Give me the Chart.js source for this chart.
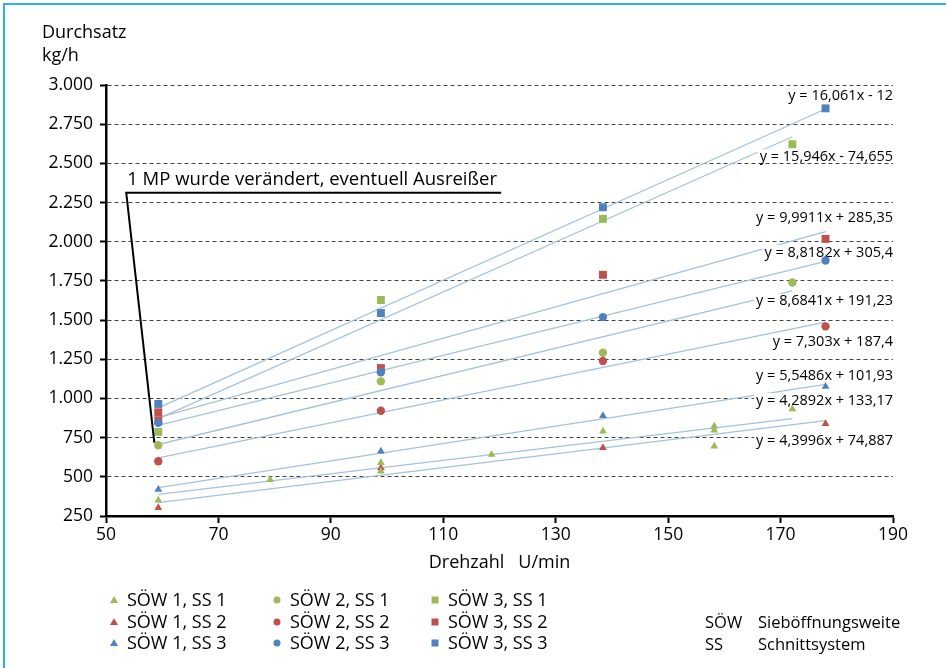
<!DOCTYPE html>
<html>
<head>
<meta charset="utf-8">
<script src="https://cdn.jsdelivr.net/npm/chart.js@4.4.1/dist/chart.umd.min.js"></script>
<style>
  body { margin: 0; background: #fff; }
  #frame { position: absolute; left: 3px; top: 3px; width: 950px; height: 680px;
           border-top: 2px solid #2ab3e6; border-left: 2px solid #2ab3e6; }
  #chart { position: absolute; left: 0; top: 0; }
</style>
</head>
<body>
<div id="frame"></div>
<canvas id="chart" width="946" height="668"></canvas>
<script>
// measured points (Drehzahl U/min -> Durchsatz kg/h)
const sow1ss1X = [59.3, 79.2, 98.9, 98.9, 118.6, 138.4, 158.2, 158.2, 158.2, 172.1];
const sow1ss1Y = [350, 482, 589, 536, 642, 790, 822, 797, 695, 933];
const sow1ss2X = [59.3, 98.9, 138.4, 178];
const sow1ss2Y = [302, 557, 685, 839];
const sow1ss3X = [59.3, 98.9, 138.4, 178];
const sow1ss3Y = [419, 663, 890, 1077];
const sow2ss1X = [59.3, 98.9, 138.4, 172.1];
const sow2ss1Y = [701, 1109, 1292, 1740];
const sow2ss2X = [59.3, 98.9, 138.4, 178];
const sow2ss2Y = [599, 922, 1239, 1460];
const sow2ss3X = [59.3, 98.9, 138.4, 178];
const sow2ss3Y = [844, 1167, 1519, 1880];
const sow3ss1X = [59.3, 98.9, 138.4, 172.1];
const sow3ss1Y = [787, 1628, 2146, 2622];
const sow3ss2X = [59.3, 59.3, 98.9, 138.4, 178];
const sow3ss2Y = [912, 861, 1194, 1789, 2018];
const sow3ss3X = [59.3, 98.9, 138.4, 178];
const sow3ss3Y = [965, 1545, 2220, 2851];

const seriesNames = ["SÖW 1, SS 1", "SÖW 1, SS 2", "SÖW 1, SS 3",
                     "SÖW 2, SS 1", "SÖW 2, SS 2", "SÖW 2, SS 3",
                     "SÖW 3, SS 1", "SÖW 3, SS 2", "SÖW 3, SS 3"];

// linear trendlines as printed in the chart
const trendSlopes = [4.2892, 4.3996, 5.5486, 8.6841, 7.303, 8.8182, 15.946, 9.9911, 16.061];
const trendIntercepts = [133.17, 74.887, 101.93, 191.23, 187.4, 305.4, -74.655, 285.35, -12];
const trendLabels = ["y = 4,2892x + 133,17", "y = 4,3996x + 74,887", "y = 5,5486x + 101,93",
                     "y = 8,6841x + 191,23", "y = 7,303x + 187,4", "y = 8,8182x + 305,4",
                     "y = 15,946x - 74,655", "y = 9,9911x + 285,35", "y = 16,061x - 12"];

const xTicksMin = 50, xTicksMax = 190, xStep = 20;
const yTicksMin = 250, yTicksMax = 3000, yStep = 250;

// where the equation labels sit (data units, right aligned)
const labelPosX = 190.0;
const labelPosY = [993, 733, 1152, 1626, 1365, 1938, 2548, 2159, 2936];

const FONT = "'Open Sans', sans-serif";
const GREEN = "#9bbb59", RED = "#c0504d", BLUE = "#4f81bd";
const TREND = "#a4c2dd";

const allX = [sow1ss1X, sow1ss2X, sow1ss3X, sow2ss1X, sow2ss2X, sow2ss3X, sow3ss1X, sow3ss2X, sow3ss3X];
const allY = [sow1ss1Y, sow1ss2Y, sow1ss3Y, sow2ss1Y, sow2ss2Y, sow2ss3Y, sow3ss1Y, sow3ss2Y, sow3ss3Y];
const colors = [GREEN, RED, BLUE, GREEN, RED, BLUE, GREEN, RED, BLUE];
const styles = ["triangle", "triangle", "triangle", "circle", "circle", "circle", "rect", "rect", "rect"];
const radii = { triangle: 4.5, circle: 4.2, rect: 5.6 };

const datasets = [];
seriesNames.forEach((name, i) => {
  datasets.push({
    label: name,
    data: allX[i].map((x, j) => ({ x: x, y: allY[i][j] })),
    pointStyle: styles[i],
    pointRadius: radii[styles[i]],
    pointBackgroundColor: colors[i],
    pointBorderWidth: 0,
    showLine: false,
    order: 0
  });
});
seriesNames.forEach((name, i) => {
  const x0 = Math.min(...allX[i]), x1 = Math.max(...allX[i]);
  datasets.push({
    label: "trend " + name,
    data: [x0, x1].map(x => ({ x: x, y: trendSlopes[i] * x + trendIntercepts[i] })),
    showLine: true,
    borderColor: TREND,
    borderWidth: 1.3,
    pointRadius: 0,
    order: 1,
    isTrend: true
  });
});

const fmtDE = v => v >= 1000 ? Math.floor(v / 1000) + "." + String(v % 1000).padStart(3, "0") : String(v);

let labelsDone = false;
const drawEquations = chart => {
  const { ctx, scales: { x, y } } = chart;
  ctx.save();
  ctx.font = "14.5px " + FONT;
  ctx.textAlign = "right";
  ctx.textBaseline = "middle";
  trendLabels.forEach((t, i) => {
    const px = x.getPixelForValue(labelPosX);
    const py = y.getPixelForValue(labelPosY[i]);
    const w = ctx.measureText(t).width;
    ctx.fillStyle = "#fff";
    ctx.fillRect(px - w - 2, py - 6.5, w + 4, 13);
    ctx.fillStyle = "#000";
    ctx.fillText(t, px, py + 1);
  });
  ctx.restore();
};

const drawMarker = (ctx, style, color, cx, cy, r) => {
  ctx.fillStyle = color;
  ctx.beginPath();
  if (style === "circle") {
    ctx.arc(cx, cy, r, 0, Math.PI * 2);
  } else if (style === "rect") {
    ctx.rect(cx - r, cy - r, 2 * r, 2 * r);
  } else {
    ctx.moveTo(cx, cy - r);
    ctx.lineTo(cx + r, cy + r * 0.75);
    ctx.lineTo(cx - r, cy + r * 0.75);
    ctx.closePath();
  }
  ctx.fill();
};

const extras = {
  id: "extras",
  beforeDatasetsDraw() { labelsDone = false; },
  beforeDatasetDraw(chart, args) {
    // equation boxes go over the trendlines but under the markers
    if (!labelsDone && !chart.data.datasets[args.index].isTrend) {
      drawEquations(chart);
      labelsDone = true;
    }
  },
  afterDraw(chart) {
    const { ctx, scales: { x, y } } = chart;
    ctx.save();
    ctx.fillStyle = "#000";
    ctx.textBaseline = "middle";
    ctx.textAlign = "left";

    // axis title top left
    ctx.font = "18px " + FONT;
    ctx.fillText("Durchsatz", 42, 33);
    ctx.fillText("kg/h", 42, 56);

    // callout
    const cx = x.getPixelForValue(53.6), cy = y.getPixelForValue(2312);
    ctx.strokeStyle = "#000";
    ctx.lineWidth = 2;
    ctx.beginPath();
    ctx.moveTo(x.getPixelForValue(120.3), cy);
    ctx.lineTo(cx, cy);
    ctx.lineTo(x.getPixelForValue(58.6), y.getPixelForValue(718));
    ctx.stroke();
    ctx.font = "18.5px " + FONT;
    ctx.fillText("1 MP wurde verändert, eventuell Ausreißer", cx + 1, cy - 13);

    // legend, three columns
    const colX = [114, 277, 435], rowY = [600, 622, 643];
    ctx.font = "18px " + FONT;
    seriesNames.forEach((name, i) => {
      const c = Math.floor(i / 3), r = i % 3;
      const s = styles[i];
      drawMarker(ctx, s, colors[i], colX[c], rowY[r], s === "circle" ? 3.5 : (s === "rect" ? 3.5 : 4));
      ctx.fillStyle = "#000";
      ctx.fillText(name, colX[c] + 13, rowY[r] + 1);
    });

    ctx.font = "16.5px " + FONT;
    ctx.fillText("SÖW", 705, 623);
    ctx.fillText("Sieböffnungsweite", 758, 623);
    ctx.fillText("SS", 705, 645);
    ctx.fillText("Schnittsystem", 758, 645);
    ctx.restore();
  }
};

new Chart(document.getElementById("chart"), {
  type: "scatter",
  data: { datasets: datasets },
  options: {
    responsive: false,
    animation: false,
    devicePixelRatio: 1,
    layout: { padding: { left: 0, right: 53, top: 85, bottom: 92 } },
    plugins: { legend: { display: false }, tooltip: { enabled: false } },
    scales: {
      x: {
        type: "linear",
        min: xTicksMin, max: xTicksMax,
        ticks: { stepSize: xStep, color: "#000", font: { family: FONT, size: 17.5 }, padding: 2 },
        grid: { drawOnChartArea: false, drawTicks: true, tickLength: 7, tickColor: "#000", tickWidth: 2 },
        border: { color: "#000", width: 2.5 },
        title: { display: true, text: "Drehzahl   U/min", color: "#000", font: { family: FONT, size: 18 }, padding: { top: 0, bottom: 2 } },
        afterFit: s => { s.height = 60; }
      },
      y: {
        min: yTicksMin, max: yTicksMax,
        ticks: { stepSize: yStep, color: "#000", font: { family: FONT, size: 17.5 }, padding: 7, callback: fmtDE },
        grid: { color: "#444", lineWidth: 1, tickLength: 6, tickColor: "#000", tickWidth: 2, tickBorderDash: [] },
        border: { color: "#000", width: 2.5, dash: [4, 3] },
        afterFit: s => { s.width = 106; }
      }
    }
  },
  plugins: [extras]
});
</script>
</body>
</html>
